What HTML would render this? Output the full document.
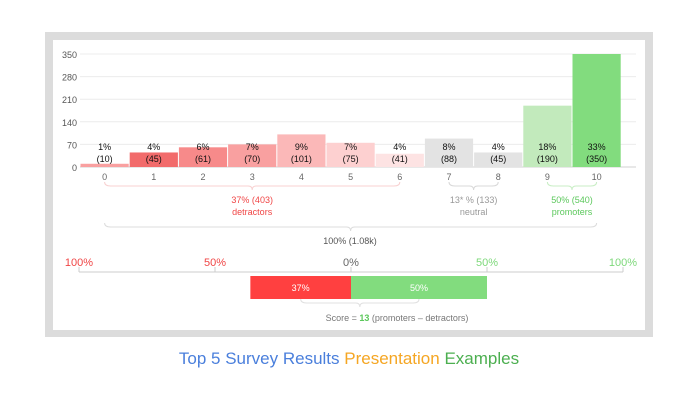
<!DOCTYPE html>
<html><head><meta charset="utf-8"><style>
body{margin:0;background:#fff;width:698px;height:400px;overflow:hidden;font-family:"Liberation Sans",Arial,sans-serif}
svg{display:block}
</style></head><body>
<svg id="c" width="698" height="400" viewBox="0 0 698 400" xmlns="http://www.w3.org/2000/svg">
<rect x="45" y="32" width="608" height="305" fill="#dcdcdc"/>
<rect x="53" y="40" width="592" height="290" fill="#fff"/>
<g id="grid"></g><g id="bars"></g><g id="lbl"></g><g id="brace"></g><g id="bot"></g>
<text x="349" y="364" font-size="17" text-anchor="middle"><tspan fill="#4a7fdc">Top 5 Survey Results </tspan><tspan fill="#f5a623">Presentation </tspan><tspan fill="#4caf50">Examples</tspan></text>
</svg>
<script>
const categories=["0","1","2","3","4","5","6","7","8","9","10"];
const counts=[10,45,61,70,101,75,41,88,45,190,350];
const pctLabels=["1%","4%","6%","7%","9%","7%","4%","8%","4%","18%","33%"];
const yTicks=[0,70,140,210,280,350];
const detractorPct=37, promoterPct=50;
const bottomTicks=[-100,-50,0,50,100];
const colors=["#f9a0a0","#f26b6b","#f78a8a","#f9a0a0","#fbb8b8","#fdd0d0","#fde3e3","#e3e3e3","#e3e3e3","#c2eabc","#82dc7e"];
const NS="http://www.w3.org/2000/svg";
function mk(t,a,p,txt){const e=document.createElementNS(NS,t);for(const k in a)e.setAttribute(k,a[k]);if(txt!=null)e.textContent=txt;p.appendChild(e);return e;}
const x0=80,pitch=49.2,zeroY=167,yScale=113/350;
const y=v=>zeroY-v*yScale, xb=i=>x0+i*pitch;
const G=id=>document.getElementById(id);
yTicks.forEach(t=>{
 const l=mk('line',{x1:80,x2:636,y1:y(t),y2:y(t),stroke:t?'#ececec':'#d0d0d0'},G('grid'));
 
 
 const tx=mk('text',{x:77,y:y(t)+4,'font-size':9,fill:'#555','text-anchor':'end'},G('grid'),String(t));
 
 
});
counts.forEach((v,i)=>{
 const h=Math.max(v*yScale,2);
 const r=mk('rect',{x:xb(i)+0.5,y:zeroY-h,width:pitch-1,height:h,fill:colors[i]},G('bars'));
 
 
 const cx=xb(i)+pitch/2;
 const a=mk('text',{x:cx,y:150,'font-size':9,fill:'#111','text-anchor':'middle'},G('lbl'),pctLabels[i]);
 
 
 const b=mk('text',{x:cx,y:162,'font-size':9,fill:'#111','text-anchor':'middle'},G('lbl'),'('+v+')');
 
 
 const c=mk('text',{x:cx,y:180,'font-size':9,fill:'#666','text-anchor':'middle'},G('lbl'),categories[i]);
 
 
});
function brace(x1,x2,yy,col,name){
 const m=(x1+x2)/2;
 const p=mk('path',{d:`M${x1},${yy-4} Q${x1},${yy} ${x1+6},${yy} L${m-4},${yy} Q${m},${yy} ${m},${yy+4} Q${m},${yy} ${m+4},${yy} L${x2-6},${yy} Q${x2},${yy} ${x2},${yy-4}`,fill:'none',stroke:col,'stroke-width':1},G('brace'));
 
 
}
function txt(x,yy,s,col,name,fs){const t=mk('text',{x:x,y:yy,'font-size':fs||9,fill:col,'text-anchor':'middle'},G('brace'),s);}
const c=i=>xb(i)+pitch/2;
const tot=counts.reduce((a,b)=>a+b,0);
const det=counts.slice(0,7).reduce((a,b)=>a+b,0),neu=counts[7]+counts[8],pro=counts[9]+counts[10];
brace(c(0),c(6),186,'#f8d0d0','detractors-brace');
txt((c(0)+c(6))/2,203,detractorPct+'% ('+det+')','#f04545','detractors-total');
txt((c(0)+c(6))/2,215,'detractors','#f04545','detractors-label');
brace(c(7),c(8),186,'#d8d8d8','neutral-brace');
txt((c(7)+c(8))/2,203,'13* % ('+neu+')','#999','neutral-total');
txt((c(7)+c(8))/2,215,'neutral','#999','neutral-label');
brace(c(9),c(10),186,'#c8eec4','promoters-brace');
txt((c(9)+c(10))/2,203,promoterPct+'% ('+pro+')','#5cc85c','promoters-total');
txt((c(9)+c(10))/2,215,'promoters','#5cc85c','promoters-label');
brace(c(0),c(10),227,'#dcdcdc','total-brace');
txt(350,244,'100% ('+(tot/1000).toFixed(2)+'k)','#555','total-label');
// bottom diverging bar
const z=351,s=2.72,bx=p=>z+p*s;
const ax=mk('line',{x1:bx(-100),x2:bx(100),y1:272,y2:272,stroke:'#ccc'},G('bot'));


bottomTicks.forEach(t=>{
 const tk=mk('line',{x1:bx(t),x2:bx(t),y1:267,y2:272,stroke:'#ccc'},G('bot'));
 
 
 const tl=mk('text',{x:bx(t),y:266,'font-size':11,fill:t<0?'#f04545':t>0?'#7dd87a':'#666','text-anchor':'middle'},G('bot'),Math.abs(t)+'%');
 
 
});
const rd=mk('rect',{x:bx(-detractorPct),y:276,width:detractorPct*s,height:23,fill:'#ff4040'},G('bot'));


const gr=mk('rect',{x:z,y:276,width:promoterPct*s,height:23,fill:'#82dc7e'},G('bot'));


const t1=mk('text',{x:bx(-detractorPct/2),y:291,'font-size':9,fill:'#fff','text-anchor':'middle'},G('bot'),detractorPct+'%');


const t2=mk('text',{x:bx(promoterPct/2),y:291,'font-size':9,fill:'#fff','text-anchor':'middle'},G('bot'),promoterPct+'%');


brace(bx(-detractorPct/2),bx(promoterPct/2),303,'#e0e0e0','score-brace');
const sc=mk('text',{x:397,y:321,'font-size':9,fill:'#777','text-anchor':'middle'},G('bot'));


mk('tspan',{},sc,'Score = ');
mk('tspan',{fill:'#5cc85c','font-weight':'bold'},sc,String(promoterPct-detractorPct));
mk('tspan',{},sc,' (promoters  \u2013  detractors)');
</script>
</body></html>
